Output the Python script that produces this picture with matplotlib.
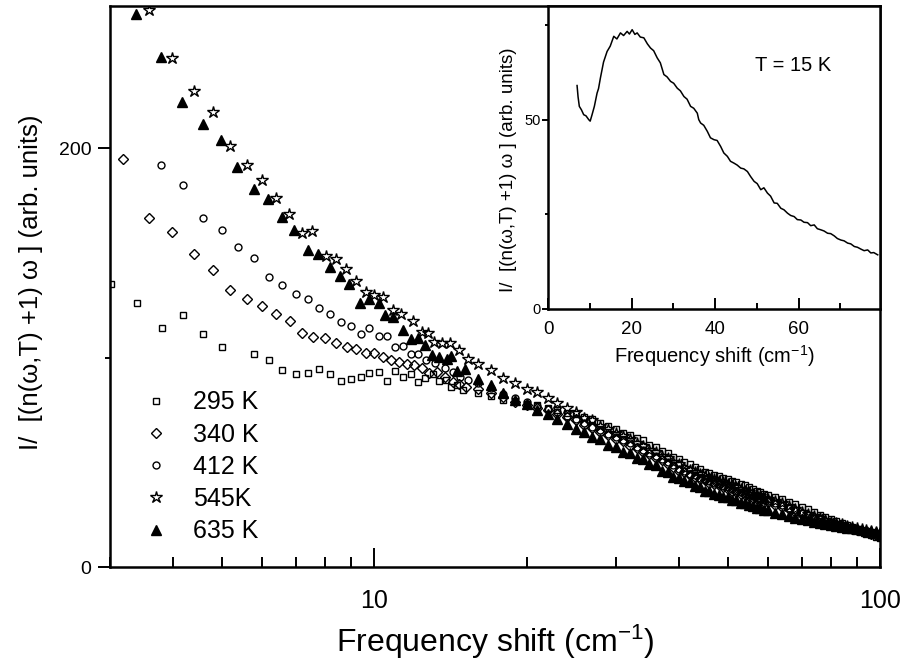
import numpy as np
import matplotlib
matplotlib.use("Agg")
import matplotlib.pyplot as plt
from matplotlib.ticker import FixedLocator, NullFormatter, FixedFormatter

plt.rcParams['font.family'] = ['Liberation Sans', 'DejaVu Sans']
plt.rcParams['mathtext.fontset'] = 'custom'
plt.rcParams['mathtext.rm'] = 'Liberation Sans'
plt.rcParams['mathtext.it'] = 'Liberation Sans:italic'

# low frequency points, one grid per series (cm^-1, arb. units)
f_295 = [3.01, 3.39, 3.81, 4.19, 4.59, 4.99, 5.77, 6.19, 6.58, 7.00, 7.40, 7.78, 8.17, 8.59,
         8.99, 9.41, 9.77, 10.2, 10.6, 11.0, 11.4, 11.8, 12.2, 12.6, 13.05, 13.4, 13.86, 14.2, 14.6, 15.0]
y_295 = [135.1, 125.9, 114.4, 120.3, 111.2, 104.9, 101.7, 98.8, 94.2, 92.0, 92.7, 94.4, 92.0, 88.8,
         89.7, 90.8, 92.5, 93.2, 88.9, 93.6, 90.8, 92.0, 88.2, 90.1, 92.0, 89.0, 89.3, 86.0, 87.0, 84.5]

f_340 = [3.18, 3.59, 3.98, 4.39, 4.79, 5.18, 5.59, 6.00, 6.39, 6.81, 7.19, 7.57, 8.00, 8.40, 8.81,
         9.21, 9.61, 10.0, 10.4, 10.8, 11.2, 11.6, 12.0, 12.4, 12.85, 13.3, 13.8, 14.3, 14.7, 15.2]
y_340 = [195.1, 166.9, 159.8, 149.4, 141.8, 132.5, 128.2, 124.9, 121.1, 117.6, 111.8, 109.9, 109.2,
         106.9, 105.1, 104.0, 102.3, 102.0, 100.4, 98.9, 97.8, 97.2, 96.4, 95.3, 92.5, 93.0, 90.8,
         88.4, 87.5, 86.0]

f_412 = [3.79, 4.18, 4.59, 4.99, 5.37, 5.79, 6.19, 6.58, 6.99, 7.38, 7.78, 8.18, 8.59, 8.99, 9.39,
         9.77, 10.19, 10.6, 11.0, 11.4, 11.8, 12.2, 12.65, 13.2, 13.8, 14.3, 14.8, 15.3]
y_412 = [191.9, 182.3, 166.7, 161.2, 152.9, 147.6, 138.6, 134.8, 130.6, 127.9, 123.6, 121.1, 117.1,
         115.0, 111.2, 114.1, 110.5, 110.3, 105.1, 105.5, 101.7, 101.7, 98.8, 97.4, 95.3, 93.0, 91.0, 89.5]

f_545 = [3.58, 3.98, 4.39, 4.79, 5.18, 5.59, 6.00, 6.39, 6.78, 7.19, 7.54, 8.02, 8.40, 8.80, 9.20,
         9.63, 10.0, 10.4, 10.9, 11.3, 11.9, 12.4, 12.75, 13.1, 13.6, 14.1, 14.7, 15.3]
y_545 = [266.0, 243.1, 227.2, 217.6, 201.1, 192.2, 184.7, 176.3, 168.8, 159.6, 160.5, 148.4, 147.3,
         142.5, 136.5, 131.4, 129.8, 129.0, 122.7, 121.1, 117.6, 112.3, 111.8, 107.5, 107.1, 106.8,
         103.6, 99.6]

f_635 = [3.38, 3.78, 4.17, 4.58, 4.97, 5.36, 5.79, 6.17, 6.58, 6.95, 7.40, 7.75, 8.18, 8.55, 8.92,
         9.35, 9.77, 10.2, 10.5, 10.9, 11.4, 11.8, 12.2, 12.6, 13.0, 13.4, 13.9, 14.2, 14.6, 15.1]
y_635 = [264.0, 243.6, 222.3, 211.8, 203.8, 191.1, 180.8, 176.0, 167.2, 160.8, 151.6, 149.7, 143.3,
         138.9, 135.4, 126.0, 128.2, 125.9, 120.3, 119.5, 113.1, 108.8, 109.2, 106.0, 101.2, 100.1,
         99.6, 100.7, 93.7, 94.8]

# shared high frequency grid: 16..60 every 1, 62..100 every 2
f_hi = [16, 17, 18, 19, 20, 21, 22, 23, 24, 25, 26, 27, 28, 29, 30, 31, 32, 33, 34, 35, 36, 37, 38,
        39, 40, 41, 42, 43, 44, 45, 46, 47, 48, 49, 50, 51, 52, 53, 54, 55, 56, 57, 58, 59, 60,
        62, 64, 66, 68, 70, 72, 74, 76, 78, 80, 82, 84, 86, 88, 90, 92, 94, 96, 98, 100]
hi_295 = [83, 81.5, 80, 79.5, 78, 77.5, 76, 75, 73.5, 73, 71.5, 70.5, 69, 67.5, 66, 64, 63, 61.5,
          60.5, 58.5, 57.5, 55.5, 54.5, 52.5, 51.5, 50, 49, 48, 47, 45.5, 45, 44, 43.5, 42.5, 42,
          41, 40.5, 39.5, 39, 38, 37.5, 36.5, 36, 35, 34.5,
          33.5, 32.5, 31, 30, 28.5, 27.5, 26.5, 25, 24, 23, 22, 21, 20, 19, 18, 17, 16, 15.5, 14.5, 14]
hi_340 = [85, 83, 81, 79, 77.5, 76, 75, 73, 71.5, 70, 68, 66.5, 64.5, 63, 61, 60, 58, 57, 55, 54,
          52, 51, 49, 48, 46, 45.5, 44, 43, 42, 41.5, 40, 39.5, 39, 38, 37.5, 36.5, 36, 35, 34.5,
          34, 33, 32.5, 32, 31, 31,
          29.5, 28.5, 27.5, 26.5, 25.5, 24.5, 23.5, 22.5, 21.5, 20.5, 20, 19, 18.5, 18, 17.5, 17,
          16.5, 16, 15.5, 15]
hi_412 = [88, 85.5, 82.5, 80.5, 79, 77, 75.5, 74, 72, 70.5, 69, 67, 65.5, 63.5, 62, 60.5, 59, 57.5,
          56, 54.5, 53, 51.5, 50, 48.5, 47, 46, 44.5, 44, 42.5, 42, 41, 40, 39.5, 38.5, 38, 37.5,
          36.5, 36, 35, 34.5, 34, 33, 32.5, 32, 31.5,
          30.5, 29.5, 28, 27, 26, 25, 24, 23, 22, 21, 20.5, 19.5, 19, 18.5, 18, 17, 16.5, 16, 15.5, 15]
hi_545 = [97, 94, 90.5, 88, 85, 83.5, 80.5, 78.5, 76, 74, 71, 70, 67.5, 66, 64, 62.5, 61, 59, 58,
          56, 55, 53, 52, 50, 49, 47.5, 46.5, 45.5, 44.5, 43.5, 42.5, 42, 41, 40.5, 39.5, 39, 38,
          37.5, 36.5, 36, 35, 34.5, 34, 33, 32.5,
          31.5, 30.5, 29, 27.5, 26.5, 25.5, 24.5, 23.5, 22.5, 21.5, 21, 20.5, 19.5, 19, 18.5, 18,
          17.5, 17, 16.5, 16]
hi_635 = [90, 87, 83, 80, 78, 75, 73, 70.5, 68.5, 66, 64.5, 62, 61, 58.5, 57.5, 55, 54.5, 52, 51.5,
          49, 48.5, 46, 45.5, 43, 42.5, 41, 40.5, 38.5, 38, 36.5, 36.5, 35, 34.5, 33.5, 33.5, 32,
          32, 30.5, 30.5, 29.5, 29, 28, 28, 27, 27,
          26, 25.5, 24.5, 23.5, 23, 22.5, 21.5, 21, 20.5, 20, 19.5, 19, 18.5, 18.5, 18, 17.5, 17,
          17, 16.5, 16.5]

labels = ['295 K', '340 K', '412 K', '545K', '635 K']

# inset spectrum at 15 K
f_15 = [6.96, 7.2, 7.5, 8.0, 8.55, 9.1, 9.75, 10.1, 10.55, 11.1, 11.75, 12.1, 12.55, 13.3, 14.15,
        14.9, 15.75, 16.5, 17.35, 18.1, 18.95, 19.5, 20.15, 20.8, 21.35, 22.1, 22.95, 23.8, 24.55,
        25.3, 26.15, 26.9, 27.75, 28.5, 29.35, 30.1, 30.95, 31.7, 32.55, 33.3, 34.15, 34.9, 35.75,
        36.1, 36.55, 37.3, 38.15, 38.9, 39.75, 40.5, 41.35, 42.1, 42.95, 43.7, 44.55, 45.3, 46.15,
        46.9, 47.75, 48.5, 49.35, 50.1, 50.95, 51.7, 52.55, 53.3, 54.15, 54.9, 55.75, 56.5, 57.35,
        58.1, 58.95, 59.7, 60.55, 61.3, 62.15, 62.9, 63.75, 64.5, 65.35, 66.1, 66.95, 67.7, 68.55,
        69.3, 70.15, 70.9, 71.75, 72.5, 73.35, 74.1, 74.95, 75.7, 76.55, 77.3, 78.0, 78.95]
y_15 = [59.0, 56.0, 53.5, 52.6, 51.3, 51.0, 50.0, 49.6, 51.3, 53.5, 57.0, 58.2, 61.0, 65.2, 68.0,
        69.4, 72.0, 71.3, 72.9, 72.2, 73.3, 72.6, 73.75, 72.5, 72.9, 71.8, 71.6, 70.0, 68.9, 68.2,
        66.3, 65.0, 61.9, 61.3, 60.1, 59.6, 58.3, 57.6, 56.1, 55.4, 53.5, 53.0, 51.7, 50.0, 49.1,
        48.5, 46.9, 45.2, 44.7, 44.5, 42.9, 41.2, 40.3, 39.0, 38.5, 38.0, 37.2, 37.0, 36.3, 35.0,
        33.7, 33.1, 31.5, 32.0, 30.6, 29.8, 28.0, 27.9, 26.6, 26.2, 25.3, 24.7, 24.4, 23.6, 23.5,
        22.9, 22.8, 22.0, 22.2, 21.2, 20.9, 20.6, 20.0, 19.9, 19.3, 18.6, 18.2, 18.0, 17.4, 17.2,
        16.5, 16.3, 15.8, 15.4, 15.6, 14.8, 14.9, 14.3]

W, H = 906, 670
fig = plt.figure(figsize=(W / 100, H / 100), dpi=100)
ax = fig.add_axes([110 / W, 1 - 567 / H, 770 / W, 561 / H])

styles = [
    dict(marker='s', ms=5, mfc='none'),
    dict(marker='D', ms=5.2, mfc='none'),
    dict(marker='o', ms=5, mfc='none'),
    dict(marker='*', ms=8.8, mfc='none'),
    dict(marker='^', ms=6.6, mfc='black'),
]
series = [
    (f_295, y_295, hi_295),
    (f_340, y_340, hi_340),
    (f_412, y_412, hi_412),
    (f_545, y_545, hi_545),
    (f_635, y_635, hi_635),
]
for (fl, yl, yh), st, lab in zip(series, styles, labels):
    ax.plot(list(fl) + f_hi, list(yl) + yh, ls='none', mec='black', mew=1.0,
            color='black', label=lab, **st)

ax.set_xscale('log')
ax.set_xlim(3.0, 100)
ax.set_ylim(0, 268)
ax.xaxis.set_major_locator(FixedLocator([10, 100]))
ax.xaxis.set_major_formatter(FixedFormatter(['10', '100']))
ax.xaxis.set_minor_locator(FixedLocator([3, 4, 5, 6, 7, 8, 9, 20, 30, 40, 50, 60, 70, 80, 90]))
ax.xaxis.set_minor_formatter(NullFormatter())
ax.yaxis.set_major_locator(FixedLocator([0, 200]))
ax.yaxis.set_minor_locator(FixedLocator([100]))
ax.tick_params(axis='x', which='major', direction='in', length=14, width=1.4, labelsize=18, pad=16)
ax.tick_params(axis='x', which='minor', direction='in', length=7, width=1.4)
ax.tick_params(axis='y', which='major', direction='out', length=8.5, width=1.4, labelsize=14, pad=5)
ax.tick_params(axis='y', which='minor', direction='out', length=3.5, width=1.4)
for sp in ax.spines.values():
    sp.set_linewidth(1.8)

ax.set_xlabel('Frequency shift (cm$^{\\mathregular{-1}}$)', fontsize=23)
ax.xaxis.set_label_coords(0.5, -0.1)
ax.set_ylabel('I/  [(n(ω,T) +1) ω ] (arb. units)', fontsize=18.5)
ax.yaxis.set_label_coords(-0.087, 0.508)

ax.legend(loc='upper left', bbox_to_anchor=(0.0435, 0.315), frameon=False, fontsize=18,
          handlelength=1.0, handletextpad=1.0, labelspacing=0.33, borderpad=0, borderaxespad=0)

# inset
axi = fig.add_axes([548 / W, 1 - 309 / H, 332 / W, 303 / H])
axi.plot(f_15, y_15, color='black', lw=1.1)
axi.set_xlim(0, 79.5)
axi.set_ylim(0, 80)
axi.xaxis.set_major_locator(FixedLocator([0, 20, 40, 60]))
axi.xaxis.set_minor_locator(FixedLocator([10, 30, 50, 70]))
axi.yaxis.set_major_locator(FixedLocator([0, 50]))
axi.yaxis.set_minor_locator(FixedLocator([25, 75]))
axi.tick_params(axis='x', which='major', direction='in', length=8, width=1.4, labelsize=13.5, pad=9)
axi.tick_params(axis='x', which='minor', direction='in', length=4, width=1.4)
axi.tick_params(axis='y', which='major', direction='out', length=4, width=1.4, labelsize=10.5, pad=1.5)
axi.tick_params(axis='y', which='minor', direction='out', length=2.5, width=1.4)
for sp in axi.spines.values():
    sp.set_linewidth(1.8)
axi.set_xlabel('Frequency shift (cm$^{\\mathregular{-1}}$)', fontsize=14.5, labelpad=3)
axi.set_ylabel('I/  [(n(ω,T) +1) ω ] (arb. units)', fontsize=13.5)
axi.yaxis.set_label_coords(-0.093, 0.46)
axi.text(0.623, 0.805, 'T = 15 K', transform=axi.transAxes, fontsize=14.5, va='center', ha='left')

fig.savefig('out.png', dpi=100)
